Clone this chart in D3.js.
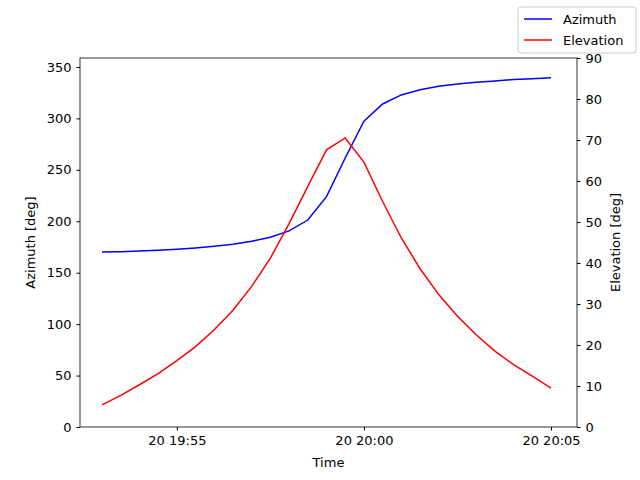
<!DOCTYPE html>
<html>
<head>
<meta charset="utf-8">
<script src="https://cdn.jsdelivr.net/npm/d3@7"></script>
<style>
body { margin: 0; background: #fff; }
text { font-family: "DejaVu Sans", sans-serif; }
</style>
</head>
<body>
<svg id="chart" width="640" height="480"></svg>
<script>
// samples every 30 s from 19:53:00 to 20:05:00
const startTime = new Date(2024, 0, 20, 19, 53, 0);
const azimuth = [170.0, 170.4, 171.0, 171.8, 172.7, 174.0, 175.7, 177.6, 180.5, 184.5, 190.6, 201.2,
    223.9, 261.5, 297.2, 314.0, 322.8, 327.9, 331.2, 333.5, 335.1, 336.4, 337.7, 338.6, 339.6];
const elevation = [5.4, 7.7, 10.3, 13.0, 16.2, 19.6, 23.7, 28.5, 34.3, 41.2, 49.6, 58.7,
    67.6, 70.5, 64.6, 55.0, 46.1, 38.6, 32.3, 27.0, 22.5, 18.5, 15.2, 12.4, 9.5];
const times = azimuth.map((_, i) => new Date(startTime.getTime() + i * 30000));
const xTicks = [new Date(2024, 0, 20, 19, 55), new Date(2024, 0, 20, 20, 0), new Date(2024, 0, 20, 20, 5)];
const azTicks = [0, 50, 100, 150, 200, 250, 300, 350];
const elTicks = [0, 10, 20, 30, 40, 50, 60, 70, 80, 90];

const svg = d3.select("#chart");
const m = { left: 80, right: 577, top: 58, bottom: 427 };

const x = d3.scaleTime()
    .domain([new Date(startTime.getTime() - 35300), new Date(times[24].getTime() + 41700)])
    .range([m.left, m.right]);
const yAz = d3.scaleLinear().domain([0, 358.7]).range([m.bottom, m.top]);
const yEl = d3.scaleLinear().domain([0, 90]).range([m.bottom, m.top]);

const fmt = d3.timeFormat("%d %H:%M");

svg.append("g").attr("transform", `translate(0,${m.bottom})`)
    .call(d3.axisBottom(x).tickValues(xTicks).tickFormat(fmt).tickSizeOuter(0).tickSize(3.5).tickPadding(5))
    .call(g => g.selectAll("text").attr("font-size", 13).attr("fill", "#000"));
svg.append("g").attr("transform", `translate(${m.left},0)`)
    .call(d3.axisLeft(yAz).tickValues(azTicks).tickSizeOuter(0).tickSize(3.5).tickPadding(5))
    .call(g => g.selectAll("text").attr("font-size", 13).attr("fill", "#000"));
svg.append("g").attr("transform", `translate(${m.right},0)`)
    .call(d3.axisRight(yEl).tickValues(elTicks).tickSizeOuter(0).tickSize(3.5).tickPadding(5))
    .call(g => g.selectAll("text").attr("font-size", 13).attr("fill", "#000"));
svg.selectAll(".domain").remove();

svg.append("rect").attr("x", m.left).attr("y", m.top)
    .attr("width", m.right - m.left).attr("height", m.bottom - m.top)
    .attr("fill", "none").attr("stroke", "#000").attr("stroke-width", 0.8);

const azLine = d3.line().x((d, i) => x(times[i])).y(d => yAz(d));
const elLine = d3.line().x((d, i) => x(times[i])).y(d => yEl(d));
svg.append("path").attr("d", azLine(azimuth)).attr("fill", "none").attr("stroke", "blue").attr("stroke-width", 1.5);
svg.append("path").attr("d", elLine(elevation)).attr("fill", "none").attr("stroke", "red").attr("stroke-width", 1.5);

svg.append("text").attr("x", (m.left + m.right) / 2).attr("y", 467).attr("text-anchor", "middle")
    .attr("font-size", 13).text("Time");
svg.append("text").attr("transform", `translate(35,${(m.top + m.bottom) / 2}) rotate(-90)`)
    .attr("text-anchor", "middle").attr("font-size", 13).text("Azimuth [deg]");
svg.append("text").attr("transform", `translate(620,${(m.top + m.bottom) / 2}) rotate(-90)`)
    .attr("text-anchor", "middle").attr("font-size", 13).text("Elevation [deg]");

// legend
const lg = svg.append("g").attr("transform", "translate(518,7)");
lg.append("rect").attr("width", 118).attr("height", 46).attr("rx", 3)
    .attr("fill", "#fff").attr("stroke", "#ccc");
[["Azimuth", "blue"], ["Elevation", "red"]].forEach(([name, col], i) => {
    const yy = 12 + i * 21;
    lg.append("line").attr("x1", 6).attr("x2", 34).attr("y1", yy).attr("y2", yy)
        .attr("stroke", col).attr("stroke-width", 1.5);
    lg.append("text").attr("x", 45).attr("y", yy + 4.5).attr("font-size", 13).text(name);
});
</script>
</body>
</html>
